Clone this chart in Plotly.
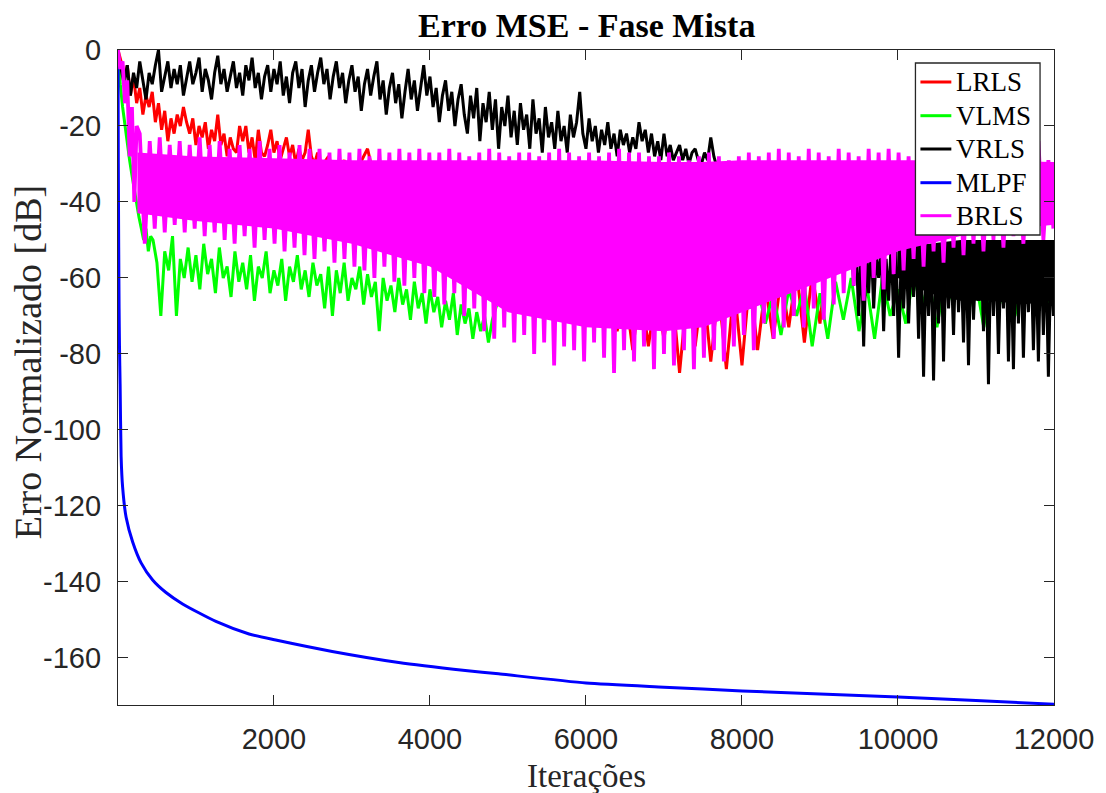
import numpy as np
import plotly.graph_objects as go

# ---------------- data ----------------
X_RANGE = [1, 12000]
Y_RANGE = [-172.4, 0]
X_TICKS = [2000, 4000, 6000, 8000, 10000, 12000]
Y_TICKS = [0, -20, -40, -60, -80, -100, -120, -140, -160]
SERIES = ["LRLS", "VLMS", "VRLS", "MLPF", "BRLS"]
COLORS = ["#ff0000", "#00ff00", "#000000", "#0000ff", "#ff00ff"]

# LRLS (red) - segment A: start 0, step 40
LRLS_A_START, LRLS_A_STEP = 0, 40
LRLS_A = [0, -3, -8, -4, -12, -7, -14, -10, -17, -12,
          -15, -11, -19, -14, -21, -16, -24, -18, -22, -17,
          -20, -15, -19, -22, -18, -25, -20, -23, -19, -26,
          -21, -24, -17, -25, -22, -28, -23, -26, -27, -20,
          -24, -20, -27, -23, -29, -21, -27, -28, -25, -21,
          -27, -24, -29, -26, -23, -28, -25, -30, -26, -29,
          -27, -21, -28, -30, -27]
# LRLS segment B: start 2600, step 100
LRLS_B_START, LRLS_B_STEP = 2600, 100
LRLS_B = [-31, -28, -34, -29, -36, -30, -26, -35, -31,
          -38, -42, -36, -45, -40, -48, -42, -50, -44, -52,
          -46, -55, -48, -57, -50, -58, -52, -60, -54, -62,
          -55, -63, -57, -65, -58, -66, -60, -67, -61,
          -74, -63, -79, -62, -78, -64, -76, -62, -85, -63,
          -78, -61, -82, -63, -84, -62, -83, -60, -79, -62,
          -76, -60, -73, -58, -77, -59, -72,
          -52, -56, -50, -54, -48, -52, -47, -50, -46, -48,
          -45, -47, -44, -46, -43, -45, -42, -44, -43, -45,
          -42, -44, -41, -43, -42, -44, -41, -43, -42, -44]

# VLMS (green)
VLMS_A_START, VLMS_A_STEP = 0, 30
VLMS_A = [0, -9, -15, -20, -25, -29, -33, -37, -40, -44, -47, -50, -47, -53, -49]
VLMS_B_START, VLMS_B_STEP = 450, 50
VLMS_B = [-50, -56, -70, -53, -58, -49, -70, -55, -60, -52,
          -61, -54, -63, -51, -59, -55, -64, -52, -60, -57,
          -65, -53, -61, -56, -63, -54, -66, -57, -60, -53,
          -64, -58, -62, -55, -66, -57, -61, -54, -63, -58,
          -65, -56, -62, -59, -68, -57, -70, -58, -64, -56,
          -66, -60, -63, -57, -67, -59, -65, -61, -74, -60,
          -66, -62, -69, -60, -67, -63, -71, -61, -68, -64,
          -72, -63, -69, -65, -73, -66, -71, -64, -75, -67,
          -72, -68, -76, -69, -74, -70, -77, -71]
VLMS_C_START, VLMS_C_STEP = 4900, 100
VLMS_C = [-64, -62, -66, -63, -67, -64, -66, -62, -67, -64,
          -68, -65, -67, -63, -68, -65, -67, -64, -68, -65,
          -67, -64, -68, -66, -67, -64, -66, -63, -67, -64,
          -66, -63, -68, -62, -72, -64, -75, -63, -70, -62,
          -78, -64, -76, -61, -71, -60, -74, -62, -76, -60,
          -70, -63, -72, -59, -68, -61, -73, -60, -66, -58,
          -69, -61, -73, -59, -67, -60, -70, -58, -66, -60,
          -68, -62]

# VRLS (black)
VRLS_A_START, VRLS_A_STEP = 0, 40
VRLS_A = [-1, -5, -9, -4, -12, -6, -10, -3, -8, -13,
          -6, -9, -4, 0, -11, -7, -3, -10, -5, -9,
          -4, -12, -7, -3, -9, -6, -2, -11, -5, -8,
          -13, -6, -1.5, -9, -5, -11, -7, -3, -10, -6,
          -12, -4, -8, -2, -10, -6, -13, -7, -4, -11,
          -5, -9, -3, -12, -7, -14, -6, -3, -10, -5,
          -15, -8, -4, -11, -6, -2, -9, -5, -13, -7,
          -3, -10, -6, -14, -8, -4, -11, -7, -16, -9,
          -5, -12, -7, -3, -13, -8, -17, -10, -6, -14,
          -9, -18, -11, -5, -13, -8, -16, -10, -4, -12,
          -7, -15, -10, -19, -12, -8, -16, -11, -20, -13,
          -9, -17, -22, -12, -18, -10, -24, -14, -19, -11,
          -21, -13, -26, -15, -20, -12, -23, -16, -25, -14,
          -21, -17, -26, -13, -22, -18, -27, -15, -23, -19,
          -26, -16, -24, -20, -27, -17, -23, -19, -11, -22,
          -26, -18, -24, -20, -27, -21, -25, -19, -26, -22,
          -28, -21, -25, -22, -27, -23, -26, -19, -24, -21,
          -27, -22, -28, -24, -29, -22, -28, -25, -29, -27,
          -25, -29, -26, -30, -27, -26, -29, -30, -27, -29,
          -23, -28, -31]
VRLS_B_START, VRLS_B_STEP = 7920, 240
VRLS_B = [-36, -40, -38, -45, -42, -48, -50]
VRLS_C_START, VRLS_C_STEP = 9400, 32
VRLS_C = [-50, -62, -52, -70, -51, -78, -53, -64, -50, -68,
          -54, -60, -52, -74, -55, -66, -51, -70, -53, -81,
          -55, -68, -52, -72, -54, -65, -51, -76, -53, -86,
          -55, -70, -52, -87, -54, -72, -51, -82, -53, -68,
          -55, -75, -52, -69, -54, -77, -51, -83, -53, -71,
          -55, -66, -52, -74, -54, -88, -51, -70, -53, -80,
          -55, -68, -52, -82, -54, -84, -51, -72, -53, -81,
          -55, -69, -52, -79, -54, -82, -51, -75, -53, -86,
          -55, -70]
# solid part of the black band on the right
VRLS_CORE_IT = [10000, 10400, 10800, 11200, 11600, 12000]
VRLS_CORE_TOP = [-52, -51, -50, -50, -50, -50]
VRLS_CORE_BOTTOM = [-60, -64, -66, -66, -67, -66]

# MLPF (blue)
MLPF_IT = [1, 5, 10, 15, 20, 28, 41, 60, 105, 189, 297, 445, 616, 829, 1256,
           1681, 2023, 2747, 3599, 4452, 4879, 6000, 7000, 8000, 9000, 10000,
           11000, 12000]
MLPF_VAL = [0, -30, -52, -68, -78, -88, -107, -115, -123, -129.5, -135, -139.5,
            -142.8, -145.8, -150.4, -153.7, -155.3, -158.3, -161.2, -163.3,
            -164.2, -166.6, -167.7, -168.7, -169.5, -170.3, -171.2, -172.2]

# BRLS (magenta): start-up, then one peak and one trough per 128 iterations
BRLS_START_IT = [1, 30, 60, 90, 120, 150, 180, 210, 240]
BRLS_START_VAL = [0, -5, -3, -14, -8, -28, -15, -40, -20]
BRLS_PEAK_START, BRLS_TROUGH_START, BRLS_PERIOD = 280, 344, 128
BRLS_PEAKS = [-22, -24, -23, -25, -24, -25, -23, -25, -24, -26,
              -25, -26, -24, -26, -25, -27, -25, -26, -26, -27,
              -26, -27, -26, -28, -26, -27, -26, -27, -26, -27,
              -27, -26, -27, -28, -27, -26, -27, -28, -27, -27,
              -28, -27, -26, -27, -28, -27, -28, -27, -26, -27,
              -27, -28, -28, -27, -28, -29, -28, -27, -28, -29,
              -28, -27, -28, -27, -26, -27, -28, -26, -27, -28,
              -26, -27, -28, -26, -27, -26, -27, -28, -26, -27,
              -28, -27, -26, -28, -27, -29, -27, -28, -30, -29, -24, -29]
BRLS_TROUGHS = [-51, -47, -48, -46, -48, -47,
                -49, -48, -50, -51, -49, -52, -50, -51, -53,
                -52, -54, -55, -53, -56, -55, -57,
                -58, -60, -57, -61, -62, -60, -64,
                -65, -67, -64, -70, -68,
                -74, -76, -73, -77,
                -75, -80, -77, -83, -78, -79, -82,
                -77, -81, -85, -79, -82, -78, -84,
                -80, -83, -79, -84, -81, -79, -82,
                -78, -75, -79, -72, -76, -73,
                -70, -73, -68, -71, -67,
                -64, -62, -66, -60, -63, -59,
                -58, -55, -57, -53, -56, -52, -54, -51, -53,
                -50, -52, -49, -51, -48, -50, -47]
# solid core of the magenta band
BRLS_CORE_IT = [250, 1000, 2000, 3000, 4000, 4500, 5000, 6000, 7000, 7500,
                8000, 8500, 9000, 9500, 10000, 11000, 12000]
BRLS_CORE_TOP = [-27, -28, -28.5, -29, -29, -29, -29, -29, -29.5, -29.5,
                 -29, -29, -29, -29, -29, -29, -29.5]
BRLS_CORE_BOTTOM = [-43, -45, -47, -51, -57, -63, -69, -73, -74, -73,
                    -69, -65, -61, -57, -53, -48, -46]

TITLE = "Erro MSE - Fase Mista"
XLABEL = "Iterações"
YLABEL = "Erro Normalizado [dB]"


# ---------------- build ----------------
def grid(start, step, vals):
    return list(start + step * np.arange(len(vals)))


lrls_x = grid(LRLS_A_START, LRLS_A_STEP, LRLS_A) + grid(LRLS_B_START, LRLS_B_STEP, LRLS_B)
lrls_y = LRLS_A + LRLS_B
lrls_x[0] = 1
vlms_x = (grid(VLMS_A_START, VLMS_A_STEP, VLMS_A) + grid(VLMS_B_START, VLMS_B_STEP, VLMS_B)
          + grid(VLMS_C_START, VLMS_C_STEP, VLMS_C))
vlms_y = VLMS_A + VLMS_B + VLMS_C
vlms_x[0] = 1
vrls_x = (grid(VRLS_A_START, VRLS_A_STEP, VRLS_A) + grid(VRLS_B_START, VRLS_B_STEP, VRLS_B)
          + grid(VRLS_C_START, VRLS_C_STEP, VRLS_C))
vrls_y = VRLS_A + VRLS_B + VRLS_C
vrls_x[0] = 1

brls_x = list(BRLS_START_IT)
brls_y = list(BRLS_START_VAL)
for k, (p, t) in enumerate(zip(BRLS_PEAKS, BRLS_TROUGHS)):
    brls_x += [BRLS_PEAK_START + BRLS_PERIOD * k, BRLS_TROUGH_START + BRLS_PERIOD * k]
    brls_y += [p, t]

LW = 3.0


def band(xs, top, bottom, color):
    return go.Scatter(x=xs + xs[::-1], y=top + bottom[::-1], mode="none",
                      fill="toself", fillcolor=color, showlegend=False,
                      hoverinfo="skip")


fig = go.Figure()
fig.add_trace(go.Scatter(x=lrls_x, y=lrls_y, mode="lines", name="LRLS",
                         line=dict(color=COLORS[0], width=LW), showlegend=False,
                         hoverinfo="skip"))
fig.add_trace(go.Scatter(x=vlms_x, y=vlms_y, mode="lines", name="VLMS",
                         line=dict(color=COLORS[1], width=LW), showlegend=False,
                         hoverinfo="skip"))
fig.add_trace(band(VRLS_CORE_IT, VRLS_CORE_TOP, VRLS_CORE_BOTTOM, COLORS[2]))
fig.add_trace(go.Scatter(x=vrls_x, y=vrls_y, mode="lines", name="VRLS",
                         line=dict(color=COLORS[2], width=LW), showlegend=False,
                         hoverinfo="skip"))
fig.add_trace(go.Scatter(x=MLPF_IT, y=MLPF_VAL, mode="lines", name="MLPF",
                         line=dict(color=COLORS[3], width=LW, shape="spline",
                                   smoothing=0.6),
                         showlegend=False, hoverinfo="skip"))
fig.add_trace(band(BRLS_CORE_IT, BRLS_CORE_TOP, BRLS_CORE_BOTTOM, COLORS[4]))
fig.add_trace(go.Scatter(x=brls_x, y=brls_y, mode="lines", name="BRLS",
                         line=dict(color=COLORS[4], width=3.8), showlegend=False,
                         hoverinfo="skip"))

W, H = 1106, 793
L, R, T, B = 118, 1057, 50, 705


def px(xp):
    return (xp - L) / (R - L)


def py(yp):
    return (B - yp) / (B - T)


AX = "#262626"
TICK_FONT = dict(family="Liberation Sans, Arial, sans-serif", size=29, color=AX)
SERIF = "Liberation Serif, Times New Roman, serif"

fig.update_layout(
    width=W, height=H, margin=dict(l=L, r=W - R, t=T, b=H - B),
    paper_bgcolor="white", plot_bgcolor="white",
    xaxis=dict(range=X_RANGE, tickvals=X_TICKS, ticktext=[str(v) for v in X_TICKS],
               showline=True, mirror="ticks", linecolor=AX, linewidth=1.3,
               ticks="inside", ticklen=10, tickwidth=1.3, tickcolor=AX,
               showgrid=False, zeroline=False, tickfont=TICK_FONT,
               ticklabelstandoff=8),
    yaxis=dict(range=Y_RANGE, tickvals=Y_TICKS,
               ticktext=[str(v).replace("\u2212", "-") for v in Y_TICKS],
               showline=True, mirror="ticks", linecolor=AX, linewidth=1.3,
               ticks="inside", ticklen=10, tickwidth=1.3, tickcolor=AX,
               showgrid=False, zeroline=False, tickfont=TICK_FONT,
               ticklabelstandoff=10),
)

ann = [
    dict(text="<b>" + TITLE + "</b>", x=0.5, y=py(26), xref="paper", yref="paper",
         showarrow=False, xanchor="center", yanchor="middle",
         font=dict(family=SERIF, size=34, color="black")),
    dict(text=XLABEL, x=0.5, y=py(776), xref="paper", yref="paper",
         showarrow=False, xanchor="center", yanchor="middle",
         font=dict(family=SERIF, size=33, color=AX)),
    dict(text=YLABEL, x=px(28), y=py(362), xref="paper", yref="paper",
         showarrow=False, xanchor="center", yanchor="middle", textangle=-90,
         font=dict(family=SERIF, size=38, color=AX)),
]
shapes = [dict(type="rect", xref="paper", yref="paper",
               x0=px(918), x1=px(1043), y0=py(63), y1=py(235),
               fillcolor="white", line=dict(color=AX, width=1.3), layer="above")]
LEG_Y = [82, 115.7, 149, 182.7, 215.7]
for name, c, yy in zip(SERIES, COLORS, LEG_Y):
    shapes.append(dict(type="line", xref="paper", yref="paper",
                       x0=px(923), x1=px(954), y0=py(yy), y1=py(yy),
                       line=dict(color=c, width=LW), layer="above"))
    ann.append(dict(text=name, x=px(957), y=py(yy), xref="paper", yref="paper",
                    showarrow=False, xanchor="left", yanchor="middle",
                    font=dict(family=SERIF, size=27, color="black")))
fig.update_layout(annotations=ann, shapes=shapes)

fig.write_html("out.html")
